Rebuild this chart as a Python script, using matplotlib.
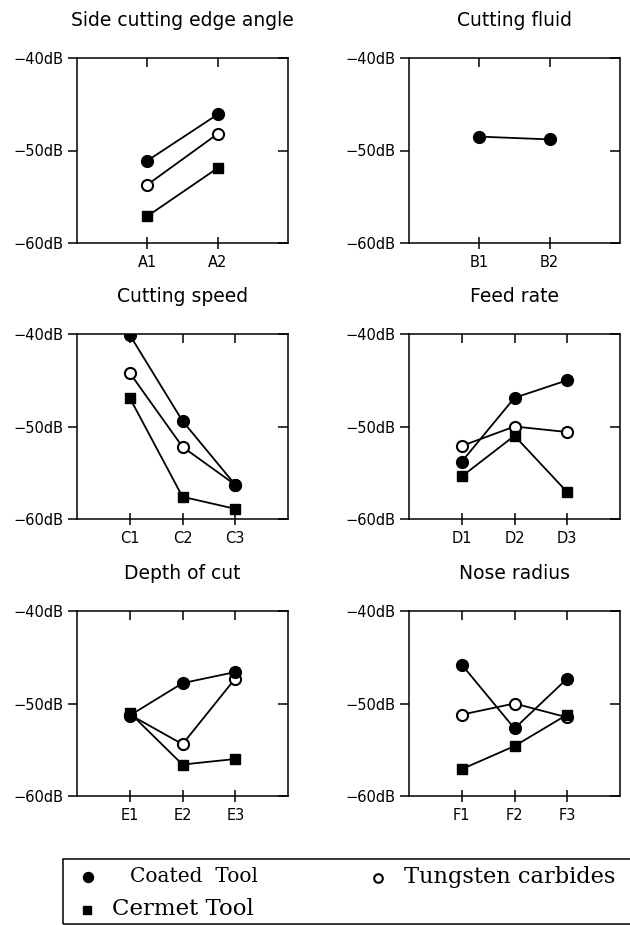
import matplotlib
matplotlib.use("Agg")
import matplotlib.pyplot as plt
from matplotlib.lines import Line2D, TICKLEFT, TICKDOWN
from matplotlib.patches import Rectangle

titles = ["Side cutting edge angle", "Cutting fluid", "Cutting speed",
          "Feed rate", "Depth of cut", "Nose radius"]
levels = [["A1", "A2"], ["B1", "B2"], ["C1", "C2", "C3"],
          ["D1", "D2", "D3"], ["E1", "E2", "E3"], ["F1", "F2", "F3"]]

coated = [[-51.1, -46.1], [-48.5, -48.8], [-40.1, -49.4, -56.3],
          [-53.8, -46.9, -45.0], [-51.3, -47.8, -46.6], [-45.8, -52.7, -47.3]]
tungsten = [[-53.7, -48.2], None, [-44.2, -52.2, -56.3],
            [-52.1, -50.0, -50.6], [-51.2, -54.4, -47.3], [-51.2, -50.0, -51.5]]
cermet = [[-57.1, -51.9], None, [-46.9, -57.6, -58.9],
          [-55.4, -51.0, -57.1], [-51.0, -56.6, -56.0], [-57.1, -54.6, -51.2]]

yticks = [-60, -50, -40]
ytick_labels = ["\u221260dB", "\u221250dB", "\u221240dB"]
legend_labels = ["Coated  Tool", "Tungsten carbides", "Cermet Tool"]

W, H = 630, 925
fig = plt.figure(figsize=(6.3, 9.25), dpi=100)

col_left = [77, 409]
ax_w = 211
row_top = [58, 334, 611]
ax_h = 185

lw = 1.3
for i in range(6):
    r, c = divmod(i, 2)
    ax = fig.add_axes([col_left[c] / W, 1 - (row_top[r] + ax_h) / H, ax_w / W, ax_h / H])
    n = len(levels[i])
    xs = list(range(1, n + 1))
    if tungsten[i] is not None:
        ax.plot(xs, tungsten[i], color="black", lw=lw, marker="o", ms=8,
                mfc="white", mec="black", mew=1.5, zorder=3)
    if cermet[i] is not None:
        ax.plot(xs, cermet[i], color="black", lw=lw, marker="s", ms=6.8,
                mfc="black", mec="black", zorder=4)
    ax.plot(xs, coated[i], color="black", lw=lw, marker="o", ms=8.5,
            mfc="black", mec="black", zorder=5)
    ax.set_xlim(0, n + 1)
    ax.set_ylim(-60, -40)
    ax.set_xticks(xs)
    ax.set_xticklabels(levels[i], fontsize=10.5, family="DejaVu Sans")
    ax.set_yticks(yticks)
    ax.set_yticklabels(ytick_labels, fontsize=10.5, family="DejaVu Sans")
    ax.tick_params(axis="x", bottom=True, top=True,
                   direction="inout", length=9, width=1.1, pad=4)
    for t in ax.xaxis.get_major_ticks():
        t.tick2line.set_marker(TICKDOWN)
        t.tick2line.set_markersize(6.5)
    ax.tick_params(axis="y", left=True, right=True, direction="out",
                   length=6.5, width=1.1, pad=3)
    for t in ax.yaxis.get_major_ticks():
        t.tick2line.set_marker(TICKLEFT)
        t.tick2line.set_markersize(7)
    for s in ax.spines.values():
        s.set_linewidth(1.1)
    ax.set_title(titles[i], fontsize=13.5, family="DejaVu Sans", pad=23)

# legend box
fig.add_artist(Rectangle((63 / W, 1 - 924 / H), 600 / W, 65 / H,
                         transform=fig.transFigure, fill=False,
                         edgecolor="black", lw=1.1))
fig.add_artist(Line2D([88 / W], [1 - 877 / H], marker="o", ms=7.2, color="black",
                      ls="none", transform=fig.transFigure))
fig.add_artist(Line2D([378 / W], [1 - 878 / H], marker="o", ms=6.2, mfc="white",
                      mec="black", mew=1.5, ls="none", transform=fig.transFigure))
fig.add_artist(Line2D([87 / W], [1 - 910 / H], marker="s", ms=5.8, color="black",
                      ls="none", transform=fig.transFigure))
fig.text(130 / W, 1 - 877 / H, legend_labels[0], fontsize=14.5,
         family="DejaVu Serif", va="center", ha="left")
fig.text(404 / W, 1 - 877 / H, legend_labels[1], fontsize=16.2,
         family="DejaVu Serif", va="center", ha="left")
fig.text(112 / W, 1 - 909 / H, legend_labels[2], fontsize=16.5,
         family="DejaVu Serif", va="center", ha="left")

fig.savefig("out.png", dpi=100)
